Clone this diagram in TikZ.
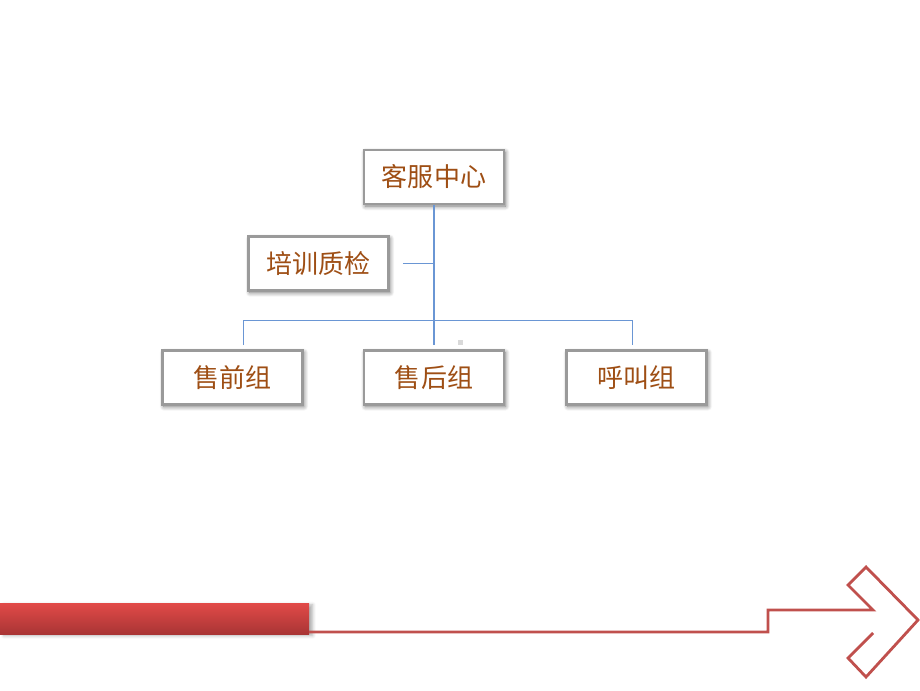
\documentclass[tikz,border=0pt]{standalone}
\usepackage{fontspec}
\newfontfamily\cjk{Noto Sans CJK SC}
\usepackage{xcolor}
\definecolor{orgText}{HTML}{9E4E14}
\definecolor{orgBorder}{HTML}{9A9A9A}
\definecolor{orgLine}{HTML}{6A96D4}
\definecolor{barTop}{HTML}{E24A48}
\definecolor{barBottom}{HTML}{A93535}
\definecolor{arrowRed}{HTML}{C0504D}
\definecolor{dotGray}{HTML}{D9D9D9}
\usepackage{tikz}
\usetikzlibrary{positioning,shadows.blur,calc}
\tikzset{
    orgbox/.style={
        draw=orgBorder,
        fill=white,
        rectangle,
        line width=1.4pt,
        minimum width=2.8cm,
        minimum height=1.08cm,
        align=center,
        blur shadow={shadow xshift=0.8pt, shadow yshift=-1.2pt, shadow blur radius=2.5pt, shadow blur steps=8, shadow opacity=55},
        font=\cjk\fontsize{14.8}{16}\selectfont\color{orgText}
    },
    orgline/.style={
        draw=orgLine,
        line width=0.6pt
    },
    bigarrow/.style={
        draw=arrowRed,
        line width=1.6pt,
        line join=miter
    }
}

\begin{document}
\begin{tikzpicture}
    \useasboundingbox (0,0) rectangle (18.4,-13.8);

    % Head of the centre
    \node[orgbox] (kefu) at (8.68,-3.54) {客服中心};

    % Staff unit beside the trunk
    \node[orgbox, below left=0.6cm and -0.54cm of kefu] (peixun) {培训质检};

    % Groups
    \node[orgbox, below=2.88cm of kefu] (houzu) {售后组};
    \node[orgbox, left=1.18cm of houzu] (qianzu) {售前组};
    \node[orgbox, right=1.2cm of houzu] (hujiao) {呼叫组};

    % Connectors
    \coordinate (bus) at ($(kefu.south)!0.8!(houzu.north)$);
    \draw[orgline, shorten >=0.08cm] (kefu.south) -- (houzu.north);
    \draw[orgline, shorten <=0.26cm] (peixun.east) -- (peixun.east -| kefu.south);
    \draw[orgline, shorten <=0.08cm] ([xshift=0.22cm]qianzu.north) |- (bus);
    \draw[orgline, shorten >=0.08cm] (bus) -| ([xshift=-0.08cm]hujiao.north);
    \fill[dotGray] (9.15,-6.8) rectangle (9.25,-6.9);

    % Bottom bar and arrow
    \shade[top color=barTop, bottom color=barBottom, blur shadow={shadow yshift=-1pt, shadow opacity=30}] (0,-12.06) rectangle (6.18,-12.68);
    \draw[bigarrow] (6.18,-12.64) -- (15.36,-12.64) -- (15.36,-12.2) -- (17.46,-12.2)
        -- (16.96,-11.7) -- (17.32,-11.34) -- (18.36,-12.4) -- (17.32,-13.54)
        -- (16.96,-13.16) -- (17.46,-12.66);
\end{tikzpicture}
\end{document}
